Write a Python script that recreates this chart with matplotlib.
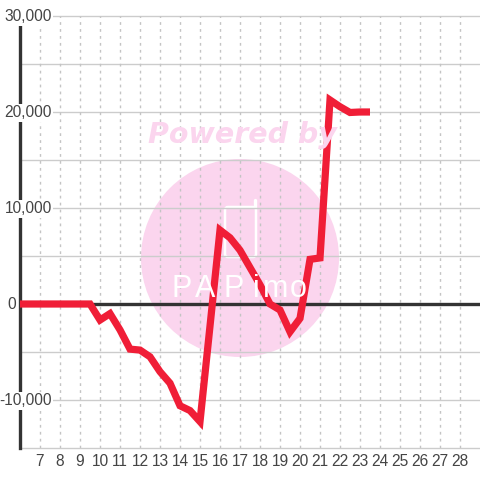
import matplotlib
matplotlib.use("Agg")
import matplotlib.pyplot as plt
from matplotlib.lines import Line2D
from matplotlib.patches import Circle, FancyBboxPatch
from matplotlib.transforms import Affine2D

# half-hour steps, one value per step
hours = [6 + 0.5 * i for i in range(36)]
values = [0, 0, 0, 0, 0, 0, 0, 0,
          -1670, -1000, -2700, -4700, -4800, -5500, -7050, -8250,
          -10600, -11100, -12250, -2300, 7700, 6900, 5600, 3800,
          2000, 0, -625, -2900, -1500, 4650, 4800, 21250,
          20550, 19950, 20000, 20000]
y_labels = [30000, 20000, 10000, -10000]
x_labels = list(range(7, 29))
logo_letters = ["P", "A", "P", "i", "m", "o"]
logo_x = [182, 205, 234, 256, 276, 298]

plt.rcParams["font.family"] = ["Liberation Sans", "DejaVu Sans"]

fig = plt.figure(figsize=(4.8, 4.8), dpi=100)
ax = fig.add_axes([20 / 480, 32 / 480, 460 / 480, 432 / 480])
ax.set_xlim(6, 29)
ax.set_ylim(-15000, 30000)
ax.patch.set_alpha(0)
for s in ax.spines.values():
    s.set_visible(False)

# watermark, in image pixels (y flipped)
px = Affine2D().scale(1, -1).translate(0, 480)
pink = "#fbd5ee"
fig.add_artist(Circle((240, 258), 99, color=pink, lw=0, transform=px, zorder=0))
fig.add_artist(FancyBboxPatch((225, 207), 31, 50, boxstyle="round,pad=0,rounding_size=3",
                              fc="none", ec="white", lw=1.8, transform=px, zorder=0))
fig.add_artist(Line2D([254.5, 254.5], [207, 200], color="white", lw=2.4,
                      solid_capstyle="round", transform=px, zorder=0))
fig.text(148 / 480, 1 - 135 / 480, "Powered by", color=pink, fontsize=20.5, fontweight="bold",
         style="italic", family="DejaVu Sans", va="center", ha="left", zorder=0)
for letter, x in zip(logo_letters, logo_x):
    fig.text(x / 480, 1 - 289 / 480, letter, color="white", fontsize=22, va="center",
             ha="center", zorder=0)

for v in range(-15000, 30001, 5000):
    ax.axhline(v, color="#cccccc", lw=1, zorder=1, clip_on=False)
for h in x_labels:
    ax.axvline(h, color="#c4c4c4", lw=1, ls=(0, (2, 3)), zorder=1)

ax.axhline(0, color="#333333", lw=2.4, zorder=2)
ax.axvline(6, color="#333333", lw=2.4, zorder=2, clip_on=False)

ax.plot(hours, values, color="#f01e37", lw=5.2, solid_joinstyle="miter",
        solid_capstyle="butt", zorder=6, clip_on=False)

ax.set_xticks(x_labels)
ax.set_xticklabels([str(h) for h in x_labels], fontsize=11.2, color="#444444")
ax.tick_params(axis="x", length=0, pad=4)
ax.set_yticks([])

for v in y_labels:
    ax.annotate(f"{v:,}", (6, v), xytext=(32 * 0.72, -0.7), textcoords="offset points",
                fontsize=11.2, color="#444444", ha="right", va="center", zorder=5,
                annotation_clip=False, bbox=dict(fc="white", ec="none", pad=1.0))
ax.annotate("0", (6, 0), xytext=(-4 * 0.72, -0.7), textcoords="offset points",
            fontsize=11.2, color="#444444", ha="right", va="center", zorder=5,
            annotation_clip=False)

fig.savefig("out.png", dpi=100)
